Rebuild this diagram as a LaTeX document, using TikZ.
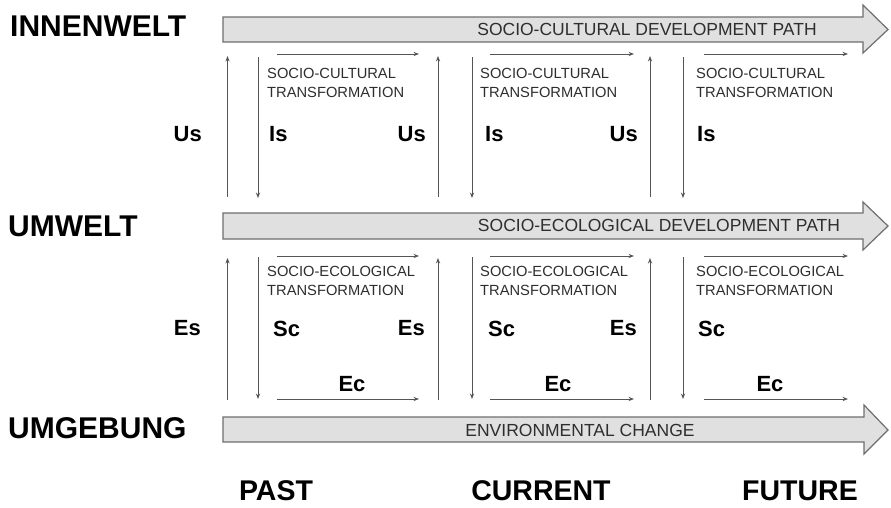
\documentclass[tikz,border=0pt]{standalone}
\usepackage{fontspec}
\setmainfont{Liberation Sans}
\usetikzlibrary{arrows.meta}
\definecolor{arrowline}{HTML}{6E6E6E}
\definecolor{arrowfill}{HTML}{E0E0E0}
\definecolor{linegray}{HTML}{555555}
\definecolor{txtgray}{HTML}{2E2E2E}
\begin{document}
\begin{tikzpicture}[x=1pt,y=-1pt,
  bigarrow/.style={draw=arrowline, fill=arrowfill, line width=1.2pt, line join=miter},
  flow/.style={draw=linegray, line width=0.9pt, -{Stealth[length=5.5pt,width=4.2pt]}},
  level/.style={font=\fontsize{30}{32}\selectfont\bfseries, anchor=west, inner sep=0pt, text=black},
  period/.style={font=\fontsize{28.5}{30}\selectfont\bfseries, inner sep=0pt, text=black},
  pathtxt/.style={font=\fontsize{17.5}{20}\selectfont, inner sep=0pt, text=txtgray},
  transtxt/.style={font=\fontsize{14.7}{18.5}\selectfont, align=left, anchor=north west, inner sep=0pt, text=txtgray},
  sym/.style={font=\fontsize{22}{24}\selectfont\bfseries, inner sep=0pt, text=black}
]
\useasboundingbox (0,0) rectangle (891,507);

% big arrows
\path[bigarrow] (223,17) -- (863,17) -- (863,5) -- (888,29.5) -- (863,53) -- (863,42) -- (223,42) -- cycle;
\path[bigarrow] (223,213) -- (863,213) -- (863,202) -- (888,226) -- (863,250) -- (863,239) -- (223,239) -- cycle;
\path[bigarrow] (223,417) -- (864,417) -- (864,405) -- (888,430) -- (864,454) -- (864,442) -- (223,442) -- cycle;

\node[pathtxt] (p1) at (647,29.5) {SOCIO-CULTURAL DEVELOPMENT PATH};
\node[pathtxt] (p2) at (659,225.5) {SOCIO-ECOLOGICAL DEVELOPMENT PATH};
\node[pathtxt] (p3) at (580,430) {ENVIRONMENTAL CHANGE};

% level labels
\node[level] (inn) at (10,26) {INNENWELT};
\node[level] (umw) at (8,226.5) {UMWELT};
\node[level] (umg) at (8,428) {UMGEBUNG};

% period labels
\node[period] (past) at (276,491) {PAST};
\node[period] (curr) at (541,491) {CURRENT};
\node[period] (fut) at (800,491) {FUTURE};

% vertical connectors
\foreach \x [count=\i] in {227.5,438,650} {
  \coordinate (uua\i) at (\x,197);
  \coordinate (uub\i) at (\x,56);
  \draw[flow] (uua\i) -- (uub\i);
  \coordinate (lua\i) at (\x,400);
  \coordinate (lub\i) at (\x,258);
  \draw[flow] (lua\i) -- (lub\i);
}
\foreach \x [count=\i] in {258,472,683} {
  \coordinate (uda\i) at (\x,57);
  \coordinate (udb\i) at (\x,198);
  \draw[flow] (uda\i) -- (udb\i);
  \coordinate (lda\i) at (\x,257);
  \coordinate (ldb\i) at (\x,399);
  \draw[flow] (lda\i) -- (ldb\i);
}
% horizontal connectors
\foreach \a/\b [count=\i] in {277/419,490/634,704/848} {
  \coordinate (ha\i) at (\a,54);
  \coordinate (hb\i) at (\b,54);
  \draw[flow] (ha\i) -- (hb\i);
  \coordinate (ma\i) at (\a,256);
  \coordinate (mb\i) at (\b,256);
  \draw[flow] (ma\i) -- (mb\i);
  \coordinate (ea\i) at (\a,399);
  \coordinate (eb\i) at (\b,399);
  \draw[flow] (ea\i) -- (eb\i);
}

% transformation labels
\node[transtxt] (ct1) at (267,68.5) {SOCIO-CULTURAL\\TRANSFORMATION};
\node[transtxt] (ct2) at (480,68.5) {SOCIO-CULTURAL\\TRANSFORMATION};
\node[transtxt] (ct3) at (696,68.5) {SOCIO-CULTURAL\\TRANSFORMATION};
\node[transtxt] (et1) at (267,266.5) {SOCIO-ECOLOGICAL\\TRANSFORMATION};
\node[transtxt] (et2) at (480,266.5) {SOCIO-ECOLOGICAL\\TRANSFORMATION};
\node[transtxt] (et3) at (696,266.5) {SOCIO-ECOLOGICAL\\TRANSFORMATION};

% symbol labels, upper section
\node[sym, anchor=east] (us0) at (202,134.5) {Us};
\node[sym, anchor=west] (is1) at (269,134.5) {Is};
\node[sym, anchor=east] (us1) at (426,134.5) {Us};
\node[sym, anchor=west] (is2) at (485,134.5) {Is};
\node[sym, anchor=east] (us2) at (638,134.5) {Us};
\node[sym, anchor=west] (is3) at (697,134.5) {Is};

% symbol labels, lower section
\node[sym, anchor=east] (es0) at (201,328.5) {Es};
\node[sym, anchor=west] (sc1) at (273,328.5) {Sc};
\node[sym, anchor=east] (es1) at (425,328.5) {Es};
\node[sym, anchor=west] (sc2) at (488,328.5) {Sc};
\node[sym, anchor=east] (es2) at (637,328.5) {Es};
\node[sym, anchor=west] (sc3) at (698,328.5) {Sc};
\node[sym] (ec1) at (352,384) {Ec};
\node[sym] (ec2) at (558,384) {Ec};
\node[sym] (ec3) at (770,384) {Ec};
\end{tikzpicture}
\end{document}
